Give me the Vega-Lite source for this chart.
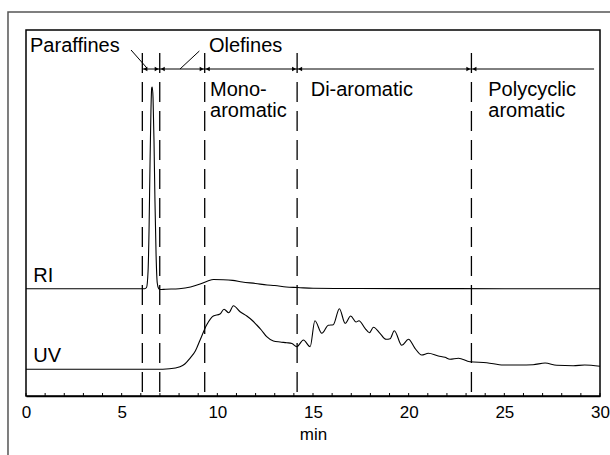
{
  "$schema": "https://vega.github.io/schema/vega-lite/v6.json",
  "width": 574,
  "height": 366,
  "autosize": "none",
  "padding": {"left": 26, "top": 30, "right": 10, "bottom": 59},
  "background": "white",
  "config": {
    "view": {"stroke": "black", "strokeWidth": 1.5},
    "font": "Liberation Sans",
    "axisX": {
      "ticks": false,
      "domainColor": "black",
      "domainWidth": 1.5,
      "labelFontSize": 17,
      "labelColor": "black",
      "labelPadding": 8,
      "labelFlush": false,
      "labelOverlap": false,
      "grid": false,
      "titleFontSize": 17,
      "titleFontWeight": "normal",
      "titleColor": "black",
      "titlePadding": 6
    }
  },
  "datasets": {
    "traces": [
      {"series": "RI", "t": 0, "s": 107.3},
      {"series": "RI", "t": 6.2, "s": 107.3},
      {"series": "RI", "t": 6.3, "s": 108.5},
      {"series": "RI", "t": 6.38, "s": 125},
      {"series": "RI", "t": 6.43, "s": 165},
      {"series": "RI", "t": 6.48, "s": 230},
      {"series": "RI", "t": 6.53, "s": 285},
      {"series": "RI", "t": 6.57, "s": 308},
      {"series": "RI", "t": 6.6, "s": 309},
      {"series": "RI", "t": 6.64, "s": 298},
      {"series": "RI", "t": 6.69, "s": 255},
      {"series": "RI", "t": 6.74, "s": 195},
      {"series": "RI", "t": 6.8, "s": 140},
      {"series": "RI", "t": 6.86, "s": 113},
      {"series": "RI", "t": 6.93, "s": 107.5},
      {"series": "RI", "t": 7.0, "s": 106.5},
      {"series": "RI", "t": 7.3, "s": 106.8},
      {"series": "RI", "t": 8.0, "s": 107.3},
      {"series": "RI", "t": 8.6, "s": 109},
      {"series": "RI", "t": 9.1, "s": 112},
      {"series": "RI", "t": 9.5, "s": 115},
      {"series": "RI", "t": 9.8, "s": 116.5},
      {"series": "RI", "t": 10.3, "s": 116.3},
      {"series": "RI", "t": 10.8, "s": 115.6},
      {"series": "RI", "t": 11.3, "s": 114},
      {"series": "RI", "t": 12, "s": 112.5},
      {"series": "RI", "t": 12.6, "s": 111},
      {"series": "RI", "t": 13, "s": 110.5},
      {"series": "RI", "t": 13.6, "s": 109},
      {"series": "RI", "t": 14.2, "s": 108.5},
      {"series": "RI", "t": 15, "s": 107.7},
      {"series": "RI", "t": 17, "s": 107.5},
      {"series": "RI", "t": 20, "s": 107.4},
      {"series": "RI", "t": 25, "s": 107.3},
      {"series": "RI", "t": 30, "s": 107.3},
      {"series": "UV", "t": 0, "s": 26.7},
      {"series": "UV", "t": 6.8, "s": 26.7},
      {"series": "UV", "t": 7.5, "s": 27.3},
      {"series": "UV", "t": 8.05, "s": 29.3},
      {"series": "UV", "t": 8.3, "s": 32},
      {"series": "UV", "t": 8.57, "s": 37.7},
      {"series": "UV", "t": 8.85, "s": 45},
      {"series": "UV", "t": 9.1, "s": 56},
      {"series": "UV", "t": 9.44, "s": 71},
      {"series": "UV", "t": 9.79, "s": 80},
      {"series": "UV", "t": 10.14, "s": 82},
      {"series": "UV", "t": 10.35, "s": 86.7},
      {"series": "UV", "t": 10.6, "s": 83.3},
      {"series": "UV", "t": 10.84, "s": 90.3},
      {"series": "UV", "t": 11.19, "s": 84.3},
      {"series": "UV", "t": 11.54, "s": 80},
      {"series": "UV", "t": 11.8, "s": 76},
      {"series": "UV", "t": 12.06, "s": 71},
      {"series": "UV", "t": 12.3, "s": 66},
      {"series": "UV", "t": 12.58, "s": 59.3},
      {"series": "UV", "t": 12.93, "s": 55},
      {"series": "UV", "t": 13.28, "s": 54},
      {"series": "UV", "t": 13.63, "s": 53.3},
      {"series": "UV", "t": 13.9, "s": 52.5},
      {"series": "UV", "t": 14.15, "s": 49.3},
      {"series": "UV", "t": 14.5, "s": 56},
      {"series": "UV", "t": 14.85, "s": 49.3},
      {"series": "UV", "t": 15.1, "s": 75.3},
      {"series": "UV", "t": 15.46, "s": 62.7},
      {"series": "UV", "t": 15.8, "s": 70.7},
      {"series": "UV", "t": 16.06, "s": 71.3},
      {"series": "UV", "t": 16.38, "s": 87.3},
      {"series": "UV", "t": 16.68, "s": 72.7},
      {"series": "UV", "t": 16.97, "s": 80},
      {"series": "UV", "t": 17.25, "s": 74},
      {"series": "UV", "t": 17.4, "s": 75.3},
      {"series": "UV", "t": 17.72, "s": 67.7},
      {"series": "UV", "t": 17.95, "s": 63.3},
      {"series": "UV", "t": 18.16, "s": 68.7},
      {"series": "UV", "t": 18.5, "s": 62.7},
      {"series": "UV", "t": 18.82, "s": 56.7},
      {"series": "UV", "t": 19.03, "s": 57.3},
      {"series": "UV", "t": 19.25, "s": 65.3},
      {"series": "UV", "t": 19.64, "s": 50.7},
      {"series": "UV", "t": 19.99, "s": 56.7},
      {"series": "UV", "t": 20.33, "s": 47.7},
      {"series": "UV", "t": 20.68, "s": 41},
      {"series": "UV", "t": 21.03, "s": 42.7},
      {"series": "UV", "t": 21.55, "s": 40},
      {"series": "UV", "t": 21.9, "s": 38.7},
      {"series": "UV", "t": 22.16, "s": 36.7},
      {"series": "UV", "t": 22.6, "s": 37.7},
      {"series": "UV", "t": 23.2, "s": 34.3},
      {"series": "UV", "t": 24.08, "s": 33.3},
      {"series": "UV", "t": 24.95, "s": 31},
      {"series": "UV", "t": 25.8, "s": 31},
      {"series": "UV", "t": 26.5, "s": 31.3},
      {"series": "UV", "t": 27.13, "s": 33},
      {"series": "UV", "t": 27.74, "s": 30.7},
      {"series": "UV", "t": 28.6, "s": 30.3},
      {"series": "UV", "t": 29.2, "s": 31},
      {"series": "UV", "t": 30, "s": 29.7}
    ],
    "bounds": [
      {"b": 6.08, "left": false, "right": true},
      {"b": 6.99, "left": true, "right": true},
      {"b": 9.34, "left": true, "right": true},
      {"b": 14.17, "left": true, "right": true},
      {"b": 23.28, "left": true, "right": true}
    ],
    "labels": [
      {"label": "Paraffines", "t": 0.21, "s": 344.3},
      {"label": "Olefines", "t": 9.56, "s": 344.3},
      {"label": "Mono-", "t": 9.62, "s": 300},
      {"label": "aromatic", "t": 9.62, "s": 279},
      {"label": "Di-aromatic", "t": 14.88, "s": 300},
      {"label": "Polycyclic", "t": 24.16, "s": 300},
      {"label": "aromatic", "t": 24.16, "s": 279},
      {"label": "RI", "t": 0.38, "s": 113.7},
      {"label": "UV", "t": 0.38, "s": 34.3}
    ],
    "leaders": [
      {"t1": 5.49, "s1": 346, "t2": 6.32, "s2": 328},
      {"t1": 9.06, "s1": 345, "t2": 8.05, "s2": 327}
    ],
    "ticks": [
      {"t": 0}, {"t": 1}, {"t": 2}, {"t": 3}, {"t": 4}, {"t": 5}, {"t": 6}, {"t": 7}, {"t": 8}, {"t": 9},
      {"t": 10}, {"t": 11}, {"t": 12}, {"t": 13}, {"t": 14}, {"t": 15}, {"t": 16}, {"t": 17}, {"t": 18}, {"t": 19},
      {"t": 20}, {"t": 21}, {"t": 22}, {"t": 23}, {"t": 24}, {"t": 25}, {"t": 26}, {"t": 27}, {"t": 28}, {"t": 29}, {"t": 30}
    ],
    "frame": [
      {"t1": -0.941, "t2": 40, "s1": 384, "s2": -120}
    ]
  },
  "layer": [
    {
      "data": {"name": "frame"},
      "mark": {"type": "rect", "fill": null, "fillOpacity": 0, "stroke": "#555555", "strokeWidth": 1.5, "clip": false},
      "encoding": {
        "x": {"field": "t1", "type": "quantitative", "scale": {"domain": [0, 30], "nice": false, "zero": false},
          "title": "min",
          "axis": {"values": [0, 5, 10, 15, 20, 25, 30], "titleFontSize": 17, "titleFont": "Liberation Sans", "titleFontWeight": "normal", "labelFontSize": 17}},
        "x2": {"field": "t2"},
        "y": {"field": "s1", "type": "quantitative", "scale": {"domain": [0, 366], "nice": false, "zero": false}, "axis": null},
        "y2": {"field": "s2"}
      }
    },
    {
      "data": {"name": "ticks"},
      "mark": {"type": "rule", "color": "black", "strokeWidth": 1},
      "encoding": {
        "x": {"field": "t", "type": "quantitative"},
        "y": {"datum": 0},
        "y2": {"datum": 3}
      }
    },
    {
      "data": {"name": "traces"},
      "mark": {"type": "line", "color": "black", "strokeWidth": 1.1, "interpolate": "monotone"},
      "encoding": {
        "x": {"field": "t", "type": "quantitative"},
        "y": {"field": "s", "type": "quantitative"},
        "detail": {"field": "series"}
      }
    },
    {
      "data": {"name": "bounds"},
      "mark": {"type": "rule", "color": "black", "strokeWidth": 1.3, "strokeDash": [20, 9]},
      "encoding": {
        "x": {"field": "b", "type": "quantitative"},
        "y": {"datum": 343},
        "y2": {"datum": 0}
      }
    },
    {
      "data": {"values": [{"a": 6.08, "b": 29.69, "s": 327}]},
      "mark": {"type": "rule", "color": "black", "strokeWidth": 1},
      "encoding": {
        "x": {"field": "a", "type": "quantitative"},
        "x2": {"field": "b"},
        "y": {"field": "s", "type": "quantitative"}
      }
    },
    {
      "data": {"name": "bounds"},
      "transform": [{"filter": "datum.left"}],
      "mark": {"type": "point", "shape": "triangle-right", "filled": true, "color": "black", "opacity": 1, "size": 22, "xOffset": -3},
      "encoding": {
        "x": {"field": "b", "type": "quantitative"},
        "y": {"datum": 327}
      }
    },
    {
      "data": {"name": "bounds"},
      "transform": [{"filter": "datum.right"}],
      "mark": {"type": "point", "shape": "triangle-left", "filled": true, "color": "black", "opacity": 1, "size": 22, "xOffset": 3},
      "encoding": {
        "x": {"field": "b", "type": "quantitative"},
        "y": {"datum": 327}
      }
    },
    {
      "data": {"name": "leaders"},
      "mark": {"type": "rule", "color": "black", "strokeWidth": 1},
      "encoding": {
        "x": {"field": "t1", "type": "quantitative"},
        "x2": {"field": "t2"},
        "y": {"field": "s1", "type": "quantitative"},
        "y2": {"field": "s2"}
      }
    },
    {
      "data": {"name": "labels"},
      "mark": {"type": "text", "align": "left", "baseline": "alphabetic", "fontSize": 20, "color": "black", "font": "Liberation Sans"},
      "encoding": {
        "x": {"field": "t", "type": "quantitative"},
        "y": {"field": "s", "type": "quantitative"},
        "text": {"field": "label"}
      }
    }
  ]
}
